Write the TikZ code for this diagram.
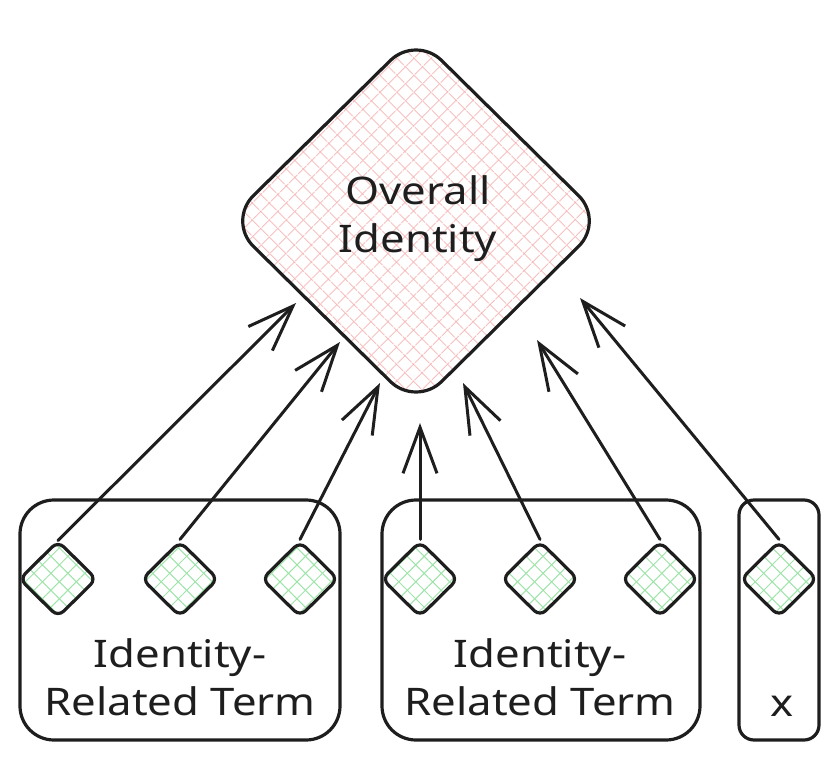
\documentclass[tikz,border=0pt]{standalone}
\usepackage{fontspec}
\setmainfont{Noto Sans}[FakeStretch=1.15]
\usetikzlibrary{shapes.geometric,arrows.meta,patterns.meta}
\definecolor{hatchpink}{HTML}{F5B0B0}
\definecolor{hatchgreen}{HTML}{9EE3A8}
\definecolor{ink}{HTML}{1E1E1E}
\begin{document}
\begin{tikzpicture}[x=1pt,y=-1pt,
  lbl/.style={font=\fontsize{38}{48}\selectfont, text=ink, align=center, inner sep=0pt},
  bigdia/.style={diamond, draw=ink, line width=3.2pt, rounded corners=36pt,
    minimum width=377pt, minimum height=372pt, inner sep=0pt,
    preaction={pattern={Lines[angle=45,distance=13pt,line width=1pt]}, pattern color=hatchpink},
    pattern={Lines[angle=-45,distance=13pt,line width=1pt]}, pattern color=hatchpink},
  smalldia/.style={diamond, draw=ink, line width=3.2pt, rounded corners=8pt,
    minimum width=77pt, minimum height=76pt, inner sep=0pt,
    preaction={pattern={Lines[angle=45,distance=12pt,line width=1pt]}, pattern color=hatchgreen},
    pattern={Lines[angle=-45,distance=12pt,line width=1pt]}, pattern color=hatchgreen},
  groupbox/.style={draw=ink, line width=3.2pt, rectangle, inner sep=0pt},
  arr/.style={draw=ink, line width=3pt, line cap=round, line join=round,
    -{Straight Barb[length=46pt,width=34pt,line width=3pt]}}
]
\useasboundingbox (0,0) rectangle (840,760);

% group boxes
\node[groupbox, rounded corners=34pt, minimum width=320pt, minimum height=240pt] (b1) at (180,620) {};
\node[groupbox, rounded corners=34pt, minimum width=318pt, minimum height=240pt] (b2) at (541,620) {};
\node[groupbox, rounded corners=15pt, minimum width=80pt, minimum height=240pt] (b3) at (779,620) {};

% big diamond
\node[bigdia] (big) at (416,221) {};
\node[lbl] (bigtxt) at (418,219) {Overall\\Identity};

% small diamonds
\node[smalldia] (d1) at (58,579) {};
\node[smalldia] (d2) at (180,579) {};
\node[smalldia] (d3) at (300,579) {};
\node[smalldia] (d4) at (420,579) {};
\node[smalldia] (d5) at (540,579) {};
\node[smalldia] (d6) at (660,579) {};
\node[smalldia] (d7) at (779,579) {};

% labels
\node[lbl] (t1) at (180,677) {Identity-\\Related Term};
\node[lbl] (t2) at (540,677) {Identity-\\Related Term};
\node[lbl] (t3) at (782,706) {x};

% arrow ends near the big diamond
\coordinate (e1) at (296,303);
\coordinate (e2) at (340,342);
\coordinate (e3) at (380,383);
\coordinate (e4) at (420,423);
\coordinate (e5) at (463,383);
\coordinate (e6) at (537,340);
\coordinate (e7) at (580,298);

\draw[arr] (d1.north) -- (e1);
\draw[arr] (d2.north) -- (e2);
\draw[arr] (d3.north) -- (e3);
\draw[arr] (d4.north) -- (e4);
\draw[arr] (d5.north) -- (e5);
\draw[arr] (d6.north) -- (e6);
\draw[arr] (d7.north) -- (e7);
\end{tikzpicture}
\end{document}
